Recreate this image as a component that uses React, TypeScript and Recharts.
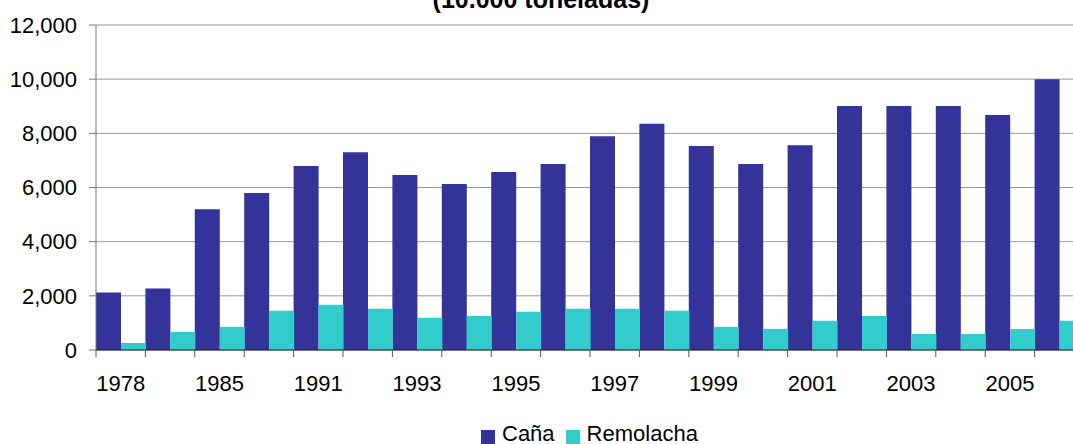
import { BarChart, Bar, XAxis, YAxis, CartesianGrid, Legend } from 'recharts';

const years = [
  '1978', '1980', '1985', '1990', '1991', '1992', '1993', '1994', '1995', '1996',
  '1997', '1998', '1999', '2000', '2001', '2002', '2003', '2004', '2005', '2006',
];
const cana = [
  2120, 2270, 5200, 5800, 6790, 7300, 6460, 6130, 6570, 6870,
  7890, 8350, 7530, 6870, 7560, 9010, 9010, 9010, 8680, 10000,
];
const remolacha = [
  260, 670, 855, 1450, 1670, 1520, 1190, 1260, 1410, 1520,
  1520, 1450, 855, 780, 1080, 1260, 594, 594, 780, 1080,
];
const yTicks = [0, 2000, 4000, 6000, 8000, 10000, 12000];

const data = years.map((y, i) => ({ year: y, cana: cana[i], remolacha: remolacha[i] }));

const FONT = '"Liberation Sans", Arial, sans-serif';
const CHART_W = 1100;
const PLOT_LEFT = 96;
const PLOT_RIGHT = 16;
const BAND = (CHART_W - PLOT_LEFT - PLOT_RIGHT) / years.length;

const fmt = (v: number) => v.toLocaleString('en-US');

function YearTick(props: any) {
  const { x, y, payload, index } = props;
  const i = index ?? payload.index;
  const left = x - BAND / 2;
  return (
    <g>
      <line x1={left} y1={y} x2={left} y2={y + 7} stroke="#555" strokeWidth={1} />
      {i % 2 === 0 && (
        <text x={x} y={y + 41} textAnchor="middle" fontSize={22} fontFamily={FONT} fill="#000">
          {payload.value}
        </text>
      )}
    </g>
  );
}

function LegendBox() {
  const items = [
    { name: 'Caña', color: '#333399' },
    { name: 'Remolacha', color: '#33CCCC' },
  ];
  return (
    <div
      style={{
        display: 'flex',
        alignItems: 'center',
        height: 30,
        paddingTop: 9,
        boxSizing: 'border-box',
        fontFamily: FONT,
        fontSize: 22,
        lineHeight: '22px',
        color: '#000',
      }}
    >
      {items.map((it) => (
        <span key={it.name} style={{ display: 'flex', alignItems: 'center', marginRight: 11 }}>
          <span
            style={{
              display: 'inline-block',
              width: 14,
              height: 14,
              background: it.color,
              marginRight: 7,
              position: 'relative',
              top: 3,
            }}
          />
          {it.name}
        </span>
      ))}
    </div>
  );
}

export default function App() {
  return (
    <div
      style={{
        position: 'absolute',
        left: 0,
        top: 0,
        width: 1073,
        height: 444,
        overflow: 'hidden',
        background: '#fff',
      }}
    >
      <BarChart
        width={CHART_W}
        height={444}
        data={data}
        margin={{ top: 25, right: PLOT_RIGHT, bottom: 0, left: 0 }}
        barCategoryGap={0}
        barGap={0}
      >
        <text
          x={541}
          y={8}
          textAnchor="middle"
          fontSize={25}
          fontWeight="bold"
          fontFamily={FONT}
          fill="#000"
        >
          (10.000 toneladas)
        </text>
        <CartesianGrid vertical={false} stroke="#999" />
        <XAxis
          dataKey="year"
          interval={0}
          height={64}
          tickSize={0}
          tickMargin={0}
          tickLine={false}
          axisLine={{ stroke: '#222' }}
          tick={<YearTick />}
        />
        <YAxis
          width={PLOT_LEFT}
          domain={[0, 12000]}
          ticks={yTicks}
          tickFormatter={fmt}
          tickSize={7}
          tickMargin={12}
          tickLine={{ stroke: '#777' }}
          axisLine={{ stroke: '#777' }}
          tick={{ fontSize: 22, fontFamily: FONT, fill: '#000' }}
        />
        <Legend
          verticalAlign="bottom"
          content={<LegendBox />}
          wrapperStyle={{ top: 414, left: 481, width: 280, height: 30, bottom: 'auto' }}
        />
        <Bar dataKey="cana" name="Caña" fill="#333399" isAnimationActive={false} />
        <Bar dataKey="remolacha" name="Remolacha" fill="#33CCCC" isAnimationActive={false} />
      </BarChart>
    </div>
  );
}
